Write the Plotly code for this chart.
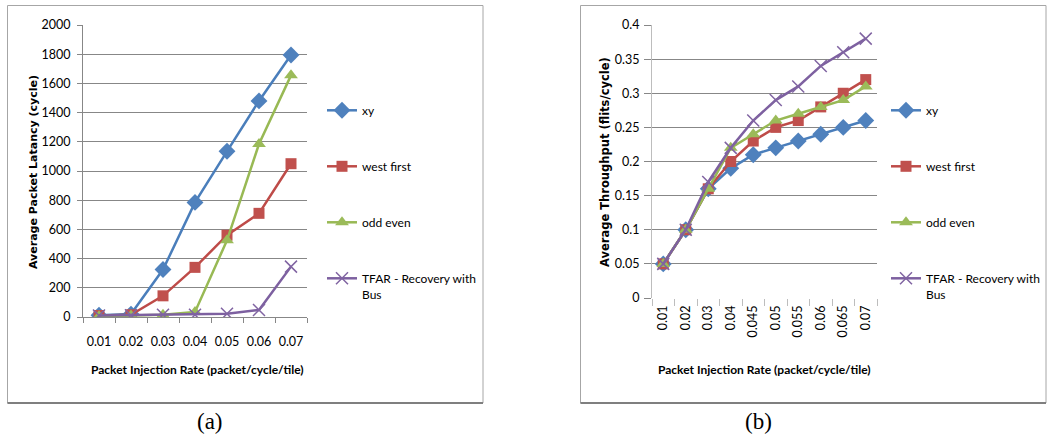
import plotly.graph_objects as go

W, H = 1047, 436

# ---------------- data ----------------
rates_a = ["0.01", "0.02", "0.03", "0.04", "0.05", "0.06", "0.07"]
lat_xy = [12, 20, 325, 785, 1135, 1480, 1795]
lat_wf = [10, 15, 145, 340, 560, 710, 1050]
lat_oe = [5, 10, 15, 35, 525, 1185, 1655]
lat_tfar = [10, 12, 15, 15, 22, 48, 345]

rates_b = ["0.01", "0.02", "0.03", "0.04", "0.045", "0.05", "0.055", "0.06", "0.065", "0.07"]
thr_xy = [0.05, 0.10, 0.16, 0.19, 0.21, 0.22, 0.23, 0.24, 0.25, 0.26]
thr_wf = [0.05, 0.10, 0.16, 0.20, 0.23, 0.25, 0.26, 0.28, 0.30, 0.32]
thr_oe = [0.05, 0.10, 0.16, 0.22, 0.24, 0.26, 0.27, 0.28, 0.29, 0.31]
thr_tfar = [0.05, 0.10, 0.17, 0.22, 0.26, 0.29, 0.31, 0.34, 0.36, 0.38]

series_names = ["xy", "west first", "odd even", "TFAR - Recovery with<br>Bus"]
lat_ticks = [0, 200, 400, 600, 800, 1000, 1200, 1400, 1600, 1800, 2000]
thr_tickvals = [0, 0.05, 0.1, 0.15, 0.2, 0.25, 0.3, 0.35, 0.4]
thr_ticktext = ["0", "0.05", "0.1", "0.15", "0.2", "0.25", "0.3", "0.35", "0.4"]

# ---------------- style ----------------
line_cols = ["#4A7EBB", "#BE4B48", "#98B954", "#7D60A0"]
mark_cols = ["#4F81BD", "#C0504D", "#9BBB59", "#8064A2"]
symbols = ["diamond", "square", "triangle-up", "x-thin"]
msizes = [13, 11, 12, 12]
NARROW = "Lato, Liberation Sans, sans-serif"
GRID = "#878787"


def px(x):
    return x / W


def py(y):
    return 1 - y / H


fig = go.Figure()

for i, vals in enumerate([lat_xy, lat_wf, lat_oe, lat_tfar]):
    fig.add_trace(go.Scatter(
        x=rates_a, y=vals, mode="lines+markers", name=series_names[i],
        xaxis="x", yaxis="y", legend="legend", legendgroup="a%d" % i,
        line=dict(color=line_cols[i], width=2.5),
        marker=dict(symbol=symbols[i], size=msizes[i], color=mark_cols[i],
                    line=dict(color=mark_cols[i], width=1.5 if i == 3 else 0)),
    ))

for i, vals in enumerate([thr_xy, thr_wf, thr_oe, thr_tfar]):
    fig.add_trace(go.Scatter(
        x=rates_b, y=vals, mode="lines+markers", name=series_names[i],
        xaxis="x2", yaxis="y2", legend="legend2", legendgroup="b%d" % i,
        line=dict(color=line_cols[i], width=2.5),
        marker=dict(symbol=symbols[i], size=msizes[i], color=mark_cols[i],
                    line=dict(color=mark_cols[i], width=1.5 if i == 3 else 0)),
    ))

tickfont = dict(family=NARROW, size=12.5, color="#000")

legend_common = dict(
    yanchor="top", xanchor="left", bgcolor="rgba(0,0,0,0)",
    font=dict(family=NARROW, size=12, color="#000"),
    tracegroupgap=37, itemwidth=30, valign="top",
)

fig.update_layout(
    width=W, height=H, autosize=False,
    margin=dict(l=0, r=0, t=0, b=0, autoexpand=False),
    paper_bgcolor="white", plot_bgcolor="white",
    showlegend=True,
    xaxis=dict(domain=[px(83), px(307)], anchor="y", type="category",
               range=[-0.5, 6.5], tickson="boundaries", ticks="outside",
               ticklen=5, tickcolor=GRID, showline=True, linecolor=GRID,
               showgrid=False, tickfont=tickfont, tickangle=0,
               ticklabelstandoff=13, automargin=False),
    yaxis=dict(domain=[py(317), py(25)], anchor="x", range=[0, 2000],
               tickvals=lat_ticks, showgrid=True, gridcolor=GRID,
               showline=True, linecolor=GRID, ticks="outside", ticklen=5,
               tickcolor=GRID, zeroline=False, tickfont=tickfont,
               ticklabelstandoff=4, automargin=False),
    xaxis2=dict(domain=[px(652), px(877)], anchor="y2", type="category",
                range=[-0.5, 9.5], tickson="boundaries", ticks="outside",
                ticklen=7, tickcolor="#BDBDBD", showline=False,
                showgrid=False, tickfont=tickfont, tickangle=-90,
                ticklabelstandoff=4, automargin=False),
    yaxis2=dict(domain=[py(298), py(25)], anchor="x2", range=[0, 0.4],
                tickvals=thr_tickvals, ticktext=thr_ticktext,
                showgrid=True, gridcolor=GRID, showline=True, linecolor="#BDBDBD",
                ticks="outside", ticklen=7, tickcolor=GRID,
                zeroline=True, zerolinecolor="rgba(0,0,0,0)",
                tickfont=tickfont, ticklabelstandoff=2, automargin=False),
    legend=dict(x=px(322), y=py(96), **legend_common),
    legend2=dict(x=px(886), y=py(96), **legend_common),
)

annotations = [
    dict(x=px(33), y=py(172), text="<b>Average Packet Latancy (cycle)</b>",
         textangle=-90, font=dict(family="DejaVu Sans", size=11, color="#000")),
    dict(x=px(605), y=py(162), text="<b>Average Throughput (flits/cycle)</b>",
         textangle=-90, font=dict(family="DejaVu Sans", size=11.5, color="#000")),
    dict(x=px(197), y=py(369), text="<b>Packet Injection Rate (packet/cycle/tile)</b>",
         font=dict(family=NARROW, size=12, color="#000")),
    dict(x=px(764), y=py(369), text="<b>Packet Injection Rate (packet/cycle/tile)</b>",
         font=dict(family=NARROW, size=12, color="#000")),
    dict(x=px(210), y=py(421), text="(a)",
         font=dict(family="Liberation Serif, Times New Roman, serif", size=23, color="#000")),
    dict(x=px(758), y=py(421), text="(b)",
         font=dict(family="Liberation Serif, Times New Roman, serif", size=23, color="#000")),
]
for a in annotations:
    a.update(xref="paper", yref="paper", showarrow=False, xanchor="center", yanchor="middle")
fig.update_layout(annotations=annotations)

shapes = []
for x0, x1 in [(7.5, 483), (580.5, 1046)]:
    shapes.append(dict(type="rect", xref="paper", yref="paper",
                       x0=px(x0), x1=px(x1), y0=py(403), y1=py(5.5),
                       line=dict(color="#A6A6A6", width=1)))
    shapes.append(dict(type="line", xref="paper", yref="paper",
                       x0=px(x0), x1=px(x1), y0=py(403), y1=py(403),
                       line=dict(color="#7F7F7F", width=2)))
fig.update_layout(shapes=shapes)

fig.write_html("out.html",
               config={"displayModeBar": False},
               post_script="document.body.style.margin='0';document.body.style.overflow='hidden';")
